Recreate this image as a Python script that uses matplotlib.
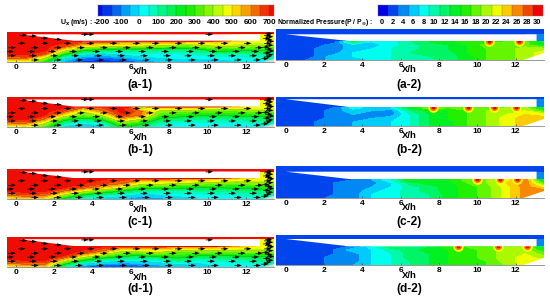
import numpy as np
import matplotlib
matplotlib.use("Agg")
import matplotlib.pyplot as plt
from matplotlib.colors import LinearSegmentedColormap, ListedColormap, BoundaryNorm

plt.rcParams['font.family'] = ['Liberation Sans', 'DejaVu Sans']
plt.rcParams['font.weight'] = 'bold'
plt.rcParams['mathtext.default'] = 'bf'

W, H = 550, 298
PXU = 19.15

x_grid = [-0.5, 0.5, 1.5, 2.5, 3.5, 4.5, 5.5, 6.5, 7.5, 8.5, 9.5, 10.5, 11.5, 12.5, 13.5]
y_grid = [0, 0.2, 0.4, 0.6, 0.8, 1.05, 1.12]

top_u = [720, 720, 720, 720, 720, 720, 720, 720, 720, 720, 720, 720, 560, 500, 480]
top_p = [2, 2, 2, 2, 2, 2, 2, 2, 2, 2, 2, 2, 2, 3, 4]

u_a1 = [[450, 480, 250, -60, -170, -190, -170, -90, -50, -20, -20, -20, 0, 30, 50],
        [620, 640, 430, 40, -90, -110, -80, -10, 10, 20, 30, 30, 30, 50, 70],
        [720, 720, 640, 250, 50, 0, 20, 50, 40, 50, 60, 90, 90, 110, 130],
        [720, 720, 720, 470, 240, 160, 140, 130, 120, 130, 150, 260, 230, 220, 230],
        [720, 720, 720, 650, 500, 430, 400, 400, 360, 330, 350, 420, 400, 380, 380],
        [720, 720, 720, 720, 660, 640, 620, 620, 620, 590, 560, 540, 500, 470, 480],
        top_u]
u_b1 = [[450, 480, 300, 0, -40, -20, 230, 130, 20, 20, 10, 10, 20, 30, 50],
        [600, 620, 430, 110, 20, 60, 360, 250, 90, 50, 50, 40, 40, 60, 80],
        [700, 720, 600, 260, 160, 240, 540, 420, 190, 130, 100, 100, 110, 130, 150],
        [720, 720, 700, 480, 330, 420, 680, 600, 300, 260, 220, 220, 220, 240, 240],
        [720, 720, 720, 640, 420, 580, 720, 620, 380, 360, 330, 330, 330, 370, 370],
        [720, 720, 720, 720, 620, 660, 720, 250, 560, 550, 540, 520, 500, 470, 480],
        top_u]
u_c1 = [[450, 500, 470, 170, 20, -20, -50, -120, -80, -30, 0, 10, 20, 40, 60],
        [600, 640, 620, 380, 190, 90, 30, -20, 0, 20, 30, 40, 50, 60, 80],
        [700, 720, 700, 590, 430, 290, 190, 90, 80, 80, 90, 100, 110, 130, 150],
        [720, 720, 720, 700, 640, 540, 430, 270, 250, 230, 210, 210, 220, 240, 250],
        [720, 720, 720, 720, 700, 660, 600, 430, 430, 400, 370, 350, 340, 370, 380],
        [720, 720, 720, 720, 720, 710, 680, 620, 620, 600, 570, 540, 510, 480, 490],
        top_u]
u_d1 = [[450, 500, 520, 70, -120, -170, -180, -150, -90, -60, -20, 0, 20, 40, 50],
        [600, 640, 640, 270, 40, -30, -60, -50, -10, 40, 0, 20, 40, 50, 70],
        [700, 720, 720, 540, 270, 130, 60, 50, 90, 160, 80, 90, 100, 130, 140],
        [720, 720, 720, 700, 520, 360, 240, 200, 270, 280, 210, 200, 210, 230, 240],
        [720, 720, 720, 720, 690, 580, 400, 420, 430, 350, 370, 360, 360, 370, 380],
        [720, 720, 720, 720, 720, 700, 640, 610, 620, 590, 570, 560, 530, 490, 490],
        top_u]

p_a2 = [[2, 2, 4, 6, 7, 7, 9, 11, 10, 12, 14, 17, 18, 20, 22],
        [2, 2, 3, 6, 7, 8, 9, 11, 11, 12, 14, 17, 18, 20, 22],
        [2, 2, 3, 4, 7, 8, 9, 11, 12, 12, 15, 17, 18, 20, 22],
        [2, 2, 3, 4, 6, 7, 9, 10, 12, 13, 15, 17, 18, 20, 20],
        [2, 2, 2, 4, 6, 6, 8, 10, 12, 13, 15, 18, 18, 18, 14],
        [2, 2, 2, 2, 12, 7, 8, 11, 13, 14, 17, 16, 17, 18, 12],
        top_p]
p_b2 = [[2, 2, 3, 4, 5, 6, 7, 9, 13, 14, 17, 19, 22, 24, 25],
        [2, 2, 3, 4, 5, 6, 7, 9, 13, 14, 17, 19, 22, 24, 24],
        [2, 2, 2, 4, 5, 5, 6, 9, 13, 15, 17, 19, 22, 24, 24],
        [2, 2, 2, 4, 5, 3, 4, 9, 13, 15, 17, 19, 21, 23, 22],
        [2, 2, 2, 4, 6, 5, 4, 11, 14, 15, 17, 19, 21, 21, 16],
        [2, 2, 2, 3, 8, 6, 7, 14, 19, 17, 18, 18, 19, 20, 12],
        top_p]
p_c2 = [[2, 2, 2, 4, 4, 7, 8, 10, 11, 14, 16, 18, 22, 26, 26],
        [2, 2, 2, 3, 4, 7, 8, 10, 11, 14, 16, 18, 22, 26, 26],
        [2, 2, 2, 3, 4, 6, 8, 10, 12, 14, 16, 18, 22, 26, 26],
        [2, 2, 2, 3, 4, 5, 7, 10, 12, 14, 16, 18, 22, 26, 22],
        [2, 2, 2, 3, 4, 4, 7, 12, 14, 14, 17, 19, 23, 27, 16],
        [2, 2, 2, 2, 3, 5, 9, 15, 14, 15, 18, 19, 21, 27, 10],
        top_p]
p_d2 = [[2, 2, 2, 4, 5, 7, 9, 11, 13, 15, 16, 17, 19, 22, 22],
        [2, 2, 2, 4, 4, 7, 9, 11, 13, 15, 16, 17, 20, 22, 22],
        [2, 2, 2, 4, 4, 7, 9, 12, 13, 15, 16, 18, 20, 22, 20],
        [2, 2, 2, 3, 4, 7, 9, 12, 13, 15, 16, 18, 20, 21, 18],
        [2, 2, 2, 3, 6, 7, 10, 12, 14, 15, 16, 18, 20, 20, 15],
        [2, 2, 2, 2, 4, 8, 12, 11, 13, 17, 17, 18, 20, 20, 12],
        top_p]

hot_a2 = [10.6, 12.2]
hot_b2 = [7.7, 9.5, 10.9, 12.0]
hot_c2 = [10.0, 11.2, 12.1]
hot_d2 = [9.0, 11.1, 12.6]

arrow_y = [0.08, 0.3, 0.52, 0.72, 0.95]
arrow_x = [[1.0, 2.2, 3.3, 4.4, 5.6, 6.8, 8.0, 9.2, 10.4, 11.6, 12.6],
           [-0.2, 0.9, 2.0, 3.1, 4.3, 5.5, 6.7, 7.9, 9.0, 10.2, 11.3, 12.4],
           [-0.3, 0.8, 1.9, 3.0, 4.2, 5.4, 6.6, 7.8, 9.1, 10.3, 11.5, 12.5],
           [-0.2, 1.0, 2.2, 3.4, 4.6, 5.8, 7.0, 8.2, 9.4, 10.6, 11.8, 12.7],
           [0.3, 1.5, 2.7, 3.9, 5.1, 6.3, 7.3, 8.5, 9.7, 10.9, 12.1]]
wall_arrow_x = [0.4, 0.9, 1.5, 2.2, 3.6, 3.9, 10.1]
wall_arrow_y = [1.38, 1.33, 1.22, 1.15, 1.42, 1.42, 1.42]
exit_arrow_x = [13.0, 13.15, 13.25, 13.1, 13.3, 13.2, 13.05, 13.25, 13.15, 13.3, 13.2, 13.1, 13.25, 13.15, 13.2]
exit_arrow_y = [0.15, 0.25, 0.35, 0.45, 0.55, 0.65, 0.75, 0.85, 0.95, 1.05, 1.13, 1.21, 1.29, 1.37, 1.45]

u_ticks = [-200, -100, 0, 100, 200, 300, 400, 500, 600, 700]
p_ticks = list(range(0, 31, 2))
u_levels = [-225] + list(range(-200, 701, 50)) + [725]
p_levels = list(range(-1, 32, 2))
x_ticks = [0, 2, 4, 6, 8, 10, 12]

rainbow = LinearSegmentedColormap.from_list(
    'tec', ['#0000e6', '#00ffff', '#00ee00', '#ffff00', '#f00000'])
u_cmap = ListedColormap(rainbow((np.array(u_levels[:-1]) + np.array(u_levels[1:]) + 450) / 1900))
p_cmap = ListedColormap(rainbow((np.array(p_levels[:-1]) + 1) / 30))
u_norm = BoundaryNorm(u_levels, u_cmap.N)
p_norm = BoundaryNorm(p_levels, p_cmap.N)

fig = plt.figure(figsize=(W / 100, H / 100), dpi=100)


def add_ax(x0, x1, top, bot):
    return fig.add_axes([x0 / W, 1 - bot / H, (x1 - x0) / W, (bot - top) / H])


def txt(x, y, s, size, **kw):
    fig.text(x / W, 1 - y / H, s, fontsize=size, fontweight='bold', ha='center', va='center', **kw)


def panel(field, kind, top, bot, slot_top, slot_bot, hot, tag, lab_y, xh_y):
    left = kind == 'u'
    x0, x1, zero = (7, 274, 16.0) if left else (276, 543.7, 285.7)
    ax = add_ax(x0, x1, top, bot)
    ax.set_xlim((x0 - zero) / PXU, (x1 - zero) / PXU)
    ytop = (bot - top) / PXU
    ax.set_ylim(0, ytop)
    levels, cmap, norm = (u_levels, u_cmap, u_norm) if left else (p_levels, p_cmap, p_norm)
    y1 = (bot - slot_top) / PXU
    y2 = (bot - slot_bot) / PXU
    ys = y_grid[:-2] + [y2 - 0.04, y2]
    xl, xr = ax.get_xlim()
    ax.contourf(x_grid, ys + [ytop], list(field[:-1]) + [field[-1], field[-1]],
                levels=levels, cmap=cmap, norm=norm, extend='both')
    if left:
        ax.contour(x_grid, ys + [ytop], list(field[:-1]) + [field[-1], field[-1]],
                   levels=levels[1::4], colors='#333333', linewidths=0.25, alpha=0.5)
    for hx in hot:
        ax.scatter([hx], [y2], s=60, color=rainbow(0.74), lw=0, zorder=2)
        ax.scatter([hx], [y2], s=26, color=rainbow(0.88), lw=0, zorder=2.1)
        ax.scatter([hx], [y2], s=8, color=rainbow(1.0), lw=0, zorder=2.2)
    nose = 0.2 if left else 0.0
    shoulder = 3.0 if left else 3.3
    end = 12.74 if left else 13.1
    strip = top_u[0] if left else top_p[0]
    ax.fill([xl, xr, xr, xl], [y1, y1, ytop, ytop], color=cmap(norm(strip)), lw=0, zorder=2.5)
    ax.fill([xl, nose, shoulder, xl], [y1, y1, y2 + 0.02, y2 + 0.02], color=cmap(norm(strip)),
            lw=0, zorder=2.5)
    ax.fill([nose, shoulder, end, end], [y1, y2, y2, y1], color='white', lw=0, zorder=3)
    if left:
        ax.fill([12.9, xr, xr], [0, 0, 0.15], color='#d8d8d8', lw=0, zorder=3)
        qx, qy = [], []
        for yy, xs in zip(arrow_y, arrow_x):
            qx += xs
            qy += [yy] * len(xs)
        qx += wall_arrow_x + exit_arrow_x
        qy += wall_arrow_y + exit_arrow_y
        qu = [7.5] * len(qx)
        qv = [0.3] * len(qx)
        ax.quiver(qx, qy, qu, qv, units='dots', angles='uv', scale=1, pivot='mid',
                  width=0.7, headwidth=5, headlength=7, headaxislength=7,
                  color='black', zorder=4)
    else:
        ax.fill([12.4, xr, xr], [0, 0, 0.37], color='white', lw=0, zorder=3)
    for s in ['top', 'left', 'right']:
        ax.spines[s].set_visible(False)
    ax.spines['bottom'].set_color('#888888')
    ax.spines['bottom'].set_linewidth(0.6)
    ax.set_yticks([])
    ax.set_xticks(x_ticks)
    ax.tick_params(axis='x', direction='in', length=1.5, width=0.5, color='#444444',
                   labelsize=6, pad=1.5)
    for zl in ax.get_xticklabels():
        zl.set_fontweight('bold')
    xc = 140 if left else 409
    txt(xc, xh_y, 'X/h', 6.8)
    txt(xc, lab_y, tag, 8.6)


def bar(x0, x1, levels, cmap, norm, ticks, label_x, label, tick_px, lab_size, tick_size):
    ax = add_ax(x0, x1, 4.6, 15.8)
    ax.pcolormesh(levels, [0, 1], [[(a + b) / 2 for a, b in zip(levels[:-1], levels[1:])]],
                  cmap=cmap, norm=norm, edgecolors='face', linewidth=0)
    ax.vlines(levels[1:-1], 0, 1, colors='#222222', linewidth=0.35, alpha=0.45)
    ax.set_xlim(levels[0], levels[-1])
    ax.set_ylim(0, 1)
    ax.set_xticks([])
    ax.set_yticks([])
    for s in ax.spines.values():
        s.set_linewidth(0.3)
        s.set_color('#777777')
    for t in ticks:
        txt(tick_px(t), 22.5, str(t), tick_size)
    fig.text(label_x / W, 1 - 22.5 / H, label, fontsize=lab_size, fontweight='bold', ha='left', va='center')


panel(u_a1, 'u', 32, 61.5, 34.3, 40.7, [], '(a-1)', 84.5, 72)
panel(u_b1, 'u', 97.3, 126.7, 99.5, 106.5, [], '(b-1)', 150.5, 137.7)
panel(u_c1, 'u', 169.3, 199, 171.5, 178, [], '(c-1)', 221.7, 210)
panel(u_d1, 'u', 237, 267, 239.2, 246, [], '(d-1)', 288.7, 277)
panel(p_a2, 'p', 29.3, 60.3, 34.3, 41, hot_a2, '(a-2)', 84.5, 70)
panel(p_b2, 'p', 97.3, 126, 99.2, 107, hot_b2, '(b-2)', 150, 135.7)
panel(p_c2, 'p', 165.7, 198.3, 171.7, 179, hot_c2, '(c-2)', 221.7, 208)
panel(p_d2, 'p', 234.7, 265.3, 239, 246.3, hot_d2, '(d-2)', 289, 275.3)

bar(97.7, 273.7, u_levels, u_cmap, u_norm, u_ticks, 60, r'U$_x$ (m/s) :',
    lambda t: 102.3 + (t + 200) * 166.7 / 900, 5.0, 5.8)
bar(377.7, 543.3, p_levels, p_cmap, p_norm, p_ticks, 277, r'Normalized Pressure(P / P$_\infty$) :',
    lambda t: 382.3 + t * 155 / 30, 4.9, 5.4)

fig.savefig('out.png', dpi=100)
